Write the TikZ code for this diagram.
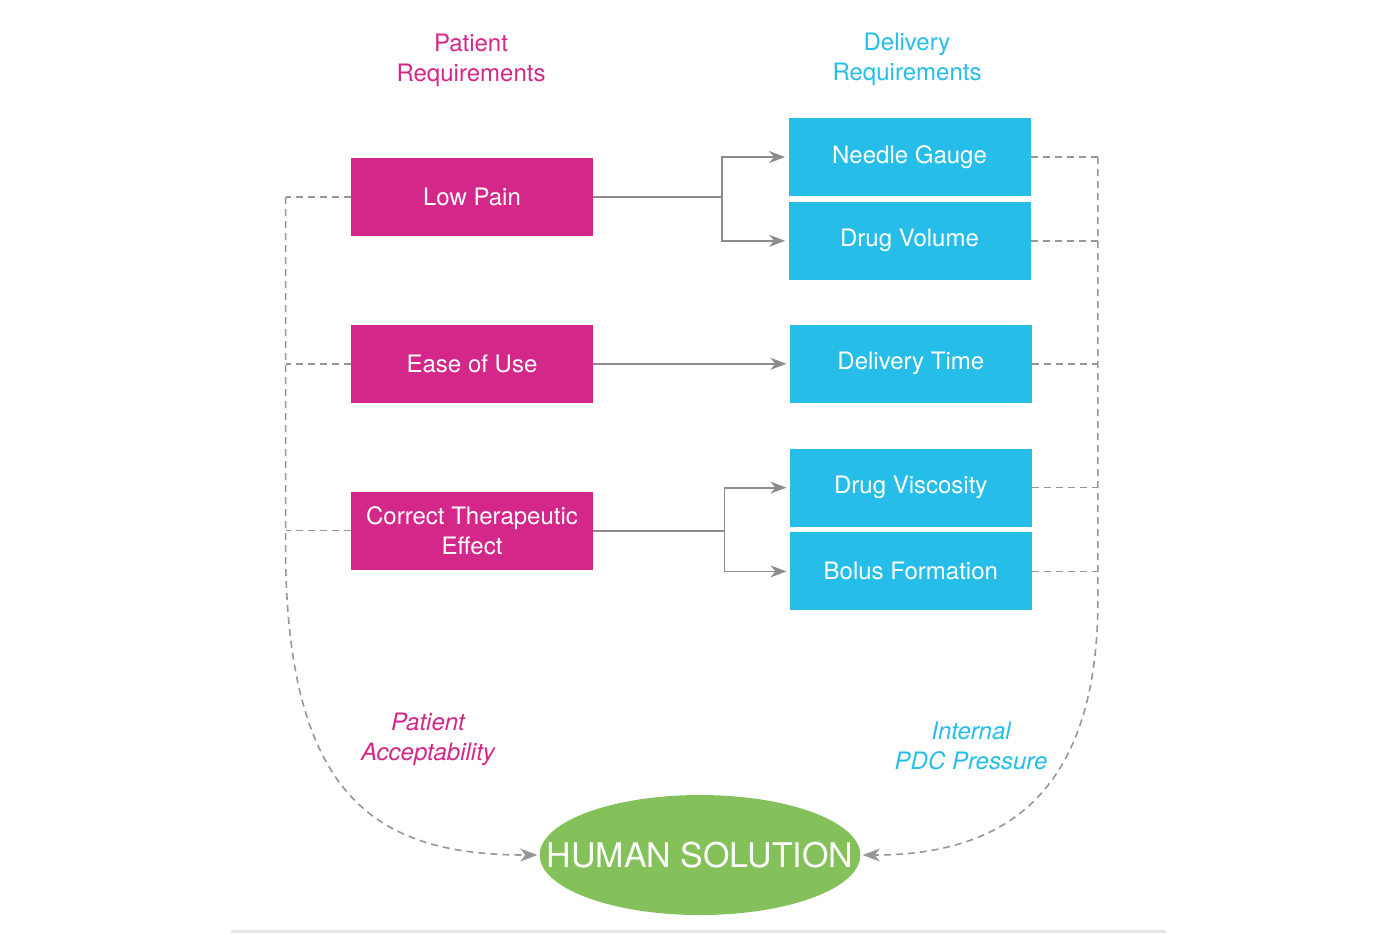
\documentclass[tikz,border=0pt]{standalone}
\usepackage{fontspec}
\setmainfont{TeX Gyre Heros}
\usepackage{xcolor}
\usepackage{tikz}
\usetikzlibrary{shapes, arrows.meta, positioning}

\definecolor{patmag}{RGB}{212,39,138}
\definecolor{delcyan}{RGB}{38,190,232}
\definecolor{solgreen}{RGB}{132,193,90}
\definecolor{linegray}{RGB}{138,140,142}

\begin{document}
\begin{tikzpicture}[x=0.5pt, y=-0.5pt,
        patbox/.style={rectangle, fill=patmag, text=white, inner sep=0pt, minimum width=121pt, minimum height=39pt, align=center, font=\fontsize{12}{15}\selectfont},
        delbox/.style={rectangle, fill=delcyan, text=white, inner sep=0pt, minimum width=121pt, minimum height=39pt, align=center, font=\fontsize{12}{15}\selectfont},
        link/.style={draw=linegray, line width=0.9pt, shorten >=1.5pt, -{Stealth[length=8pt, width=6pt, inset=2.5pt]}},
        feed/.style={draw=linegray!90, line width=0.8pt, dash pattern=on 3.5pt off 2.5pt},
        tip/.style={-{Stealth[length=8.5pt, width=6.5pt, inset=2.5pt]}, shorten >=1pt}]
        \useasboundingbox (0,0) rectangle (1400,934);

        % column titles
        \node (pathead) [text=patmag, align=center, font=\fontsize{12}{15}\selectfont] at (471,60) {Patient\\Requirements};
        \node (delhead) [text=delcyan, align=center, font=\fontsize{12}{15}\selectfont] at (907,59) {Delivery\\Requirements};

        % patient side
        \node (lowpain) [patbox] at (472,197) {Low Pain};
        \node (ease) [patbox, below=44pt of lowpain] {Ease of Use};
        \node (effect) [patbox, below=44pt of ease] {Correct Therapeutic\\Effect};

        % delivery side
        \node (needle) [delbox] at (909.5,157) {Needle Gauge};
        \node (volume) [delbox, below=2.5pt of needle] {Drug Volume};
        \node (deltime) [delbox, right=98pt of ease] {Delivery Time};
        \node (viscosity) [delbox, below=22.5pt of deltime] {Drug Viscosity};
        \node (bolus) [delbox, below=2.5pt of viscosity] {Bolus Formation};

        \node (solution) [ellipse, fill=solgreen, text=white, inner xsep=-20pt, inner ysep=0pt, minimum width=160pt, minimum height=60pt, font=\fontsize{17}{18}\selectfont] at (700,855) {HUMAN SOLUTION};

        \node (accept) [text=patmag, align=center, font=\fontsize{12}{15}\selectfont\itshape] at (428,739) {Patient\\Acceptability};
        \node (pressure) [text=delcyan, align=center, font=\fontsize{12}{15}\selectfont\itshape] at (971,746) {Internal\\PDC Pressure};

        % requirement links
        \coordinate (splitA) at ([xshift=-33pt]needle.west |- lowpain.east);
        \coordinate (splitC) at ([xshift=-32.5pt]viscosity.west |- effect.east);
        \draw [link] (lowpain.east) -- (splitA) |- (needle.west);
        \draw [link] (splitA) |- (volume.west);
        \draw [link] (ease.east) -- (deltime.west);
        \draw [link] (effect.east) -- (splitC) |- (viscosity.west);
        \draw [link] (splitC) |- (bolus.west);

        % feedback rails
        \coordinate (railL) at ([xshift=-32.5pt]lowpain.west);
        \coordinate (railR) at ([xshift=33.5pt]needle.east);
        \draw [feed] (lowpain.west) -- (railL);
        \draw [feed] (ease.west) -- (ease.west -| railL);
        \draw [feed] (effect.west) -- (effect.west -| railL);
        \draw [feed] (needle.east) -- (railR);
        \draw [feed] (volume.east) -- (volume.east -| railR);
        \draw [feed] (deltime.east) -- (deltime.east -| railR);
        \draw [feed] (viscosity.east) -- (viscosity.east -| railR);
        \draw [feed] (bolus.east) -- (bolus.east -| railR);
        \draw [feed, tip] (railL) -- ([yshift=-15pt]railL |- effect.west) .. controls +(4,240) and +(-160,0) .. (solution.west);
        \draw [feed, tip] (railR) -- ([yshift=-14pt]railR |- bolus.east) .. controls +(0,200) and +(138,0) .. (solution.east);

        \draw [line width=1.5pt, color=black!10] (231,931) -- (1166,931);
\end{tikzpicture}
\end{document}
